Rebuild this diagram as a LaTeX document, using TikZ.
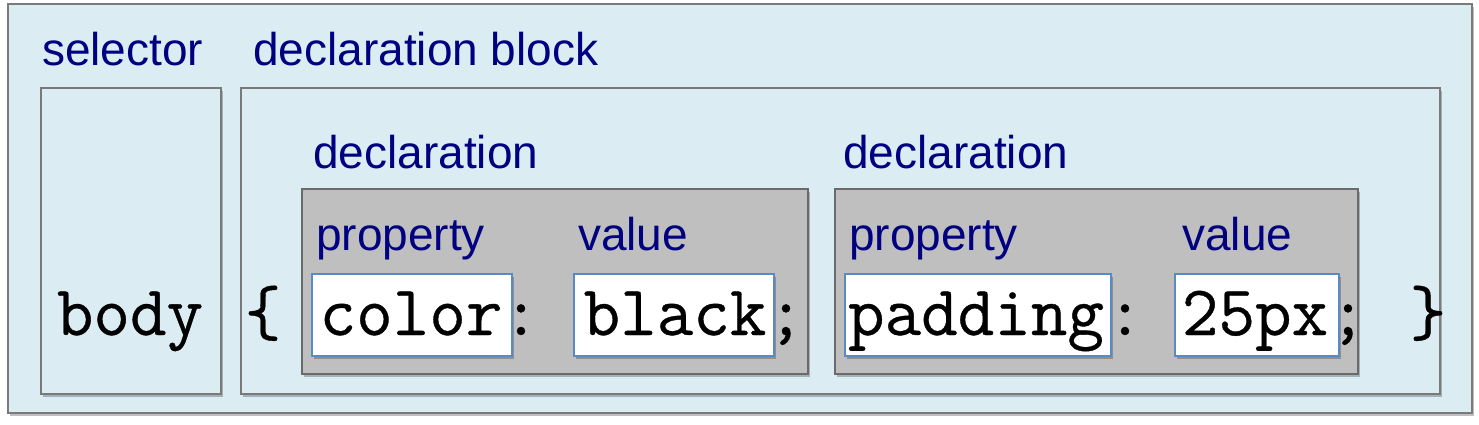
\documentclass[tikz,border=0pt]{standalone}
\usepackage{fontspec}
\newfontfamily\lblfont{Liberation Sans}
\newfontfamily\codefont{Latin Modern Mono}[BoldFont={Latin Modern Mono},BoldFeatures={FakeBold=0.5}]
\usetikzlibrary{shadows}
\definecolor{lightbg}{HTML}{DBEDF3}
\definecolor{boxline}{HTML}{7A7A7A}
\definecolor{grayfill}{HTML}{BFBFBF}
\definecolor{grayline}{HTML}{6A6A6A}
\definecolor{wline}{HTML}{5A8AC6}
\definecolor{navytext}{HTML}{000080}
\tikzset{
  shade/.style={drop shadow={shadow xshift=2pt,shadow yshift=-3pt,opacity=0.25,fill=black}},
  bluebox/.style={rectangle,draw=boxline,fill=lightbg,line width=1.4pt,inner sep=0pt,outer sep=0pt,shade},
  graybox/.style={rectangle,draw=grayline,fill=grayfill,line width=1.4pt,inner sep=0pt,outer sep=0pt,shade},
  whitebox/.style={rectangle,draw=wline,fill=white,line width=1.2pt,inner sep=0pt,outer sep=0pt,shade},
  lbl/.style={anchor=base west,inner sep=0pt,text=navytext,font=\lblfont\fontsize{46}{55}\selectfont},
  code/.style={anchor=base,inner sep=0pt,text=black,font=\codefont\bfseries\fontsize{71}{80}\selectfont},
}
\begin{document}
\begin{tikzpicture}[x=1pt,y=-1pt]
\useasboundingbox (0,0) rectangle (1479,425);
% outer panel
\node[bluebox,minimum width=1464pt,minimum height=409pt] (outer) at (740,208.5) {};
% selector and declaration block
\node[bluebox,minimum width=180pt,minimum height=306pt] (sel) at (131,241) {};
\node[bluebox,minimum width=1199pt,minimum height=306pt] (blk) at (840.5,241) {};
% declarations
\node[graybox,minimum width=506pt,minimum height=185pt] (decl1) at (555,281.5) {};
\node[graybox,minimum width=523pt,minimum height=185pt] (decl2) at (1096.5,281.5) {};
% white boxes
\node[whitebox,minimum width=200pt,minimum height=82pt] (wb1) at (412,315) {};
\node[whitebox,minimum width=200pt,minimum height=82pt] (wb2) at (674,315) {};
\node[whitebox,minimum width=266pt,minimum height=82pt] (wb3) at (978,315) {};
\node[whitebox,minimum width=164pt,minimum height=82pt] (wb4) at (1257,315) {};
% labels
\node[lbl] (lsel) at (42,66) {selector};
\node[lbl] (lblk) at (253,66) {declaration block};
\node[lbl] (ldecl1) at (313,168) {declaration};
\node[lbl] (ldecl2) at (843,168) {declaration};
\node[lbl] (lprop1) at (316,250) {property};
\node[lbl] (lval1) at (578,250) {value};
\node[lbl] (lprop2) at (849,250) {property};
\node[lbl] (lval2) at (1182,250) {value};
% code
\node[code] (tbody) at (130,335) {body};
\node[code] (tlb) at (263,335) {\{};
\node[code] (tcolor) at (411,335) {color};
\node[code] (tcol1) at (521,335) {:};
\node[code] (tblack) at (675,335) {black};
\node[code] (tsemi1) at (786,335) {;};
\node[code] (tpad) at (976,335) {padding};
\node[code] (tcol2) at (1125,335) {:};
\node[code] (t25) at (1255,335) {25px};
\node[code] (tsemi2) at (1348,335) {;};
\node[code] (trb) at (1428,335) {\}};
\end{tikzpicture}
\end{document}
